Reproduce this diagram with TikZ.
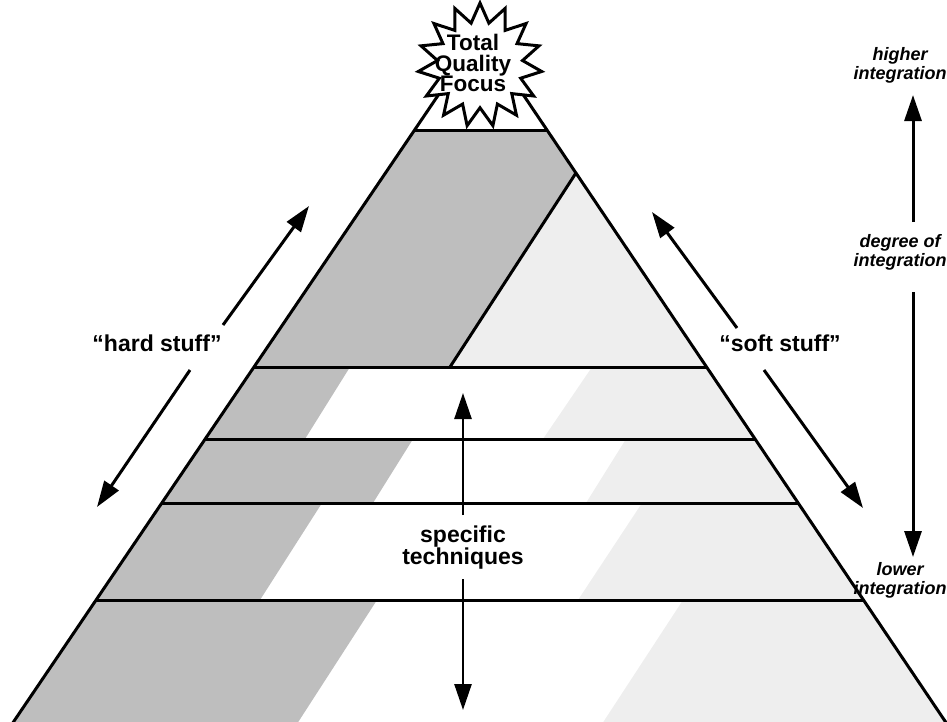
\documentclass[tikz,border=0pt]{standalone}
\usepackage{fontspec}
\setmainfont{Liberation Sans}
\usepackage{xcolor}
\usetikzlibrary{arrows.meta,calc,shapes.geometric}

\definecolor{hardgray}{HTML}{BEBEBE}
\definecolor{softgray}{HTML}{EEEEEE}

\tikzset{
	edge/.style={line width=3pt},
	arr/.style={line width=3pt,-{Triangle[length=26pt,width=17pt]}},
	lbl/.style={font=\fontsize{23}{22}\selectfont\bfseries,align=center},
	side/.style={font=\fontsize{18}{19}\selectfont\bfseries\itshape,align=center}
}

\begin{document}
\begin{tikzpicture}[x=1pt,y=-1pt]
		\useasboundingbox (0,0) rectangle (947,721);
		
		\coordinate (apex) at (481,32);
		\coordinate (bl) at (10,727);
		\coordinate (br) at (949,727);
		
		% shaded strips
		\begin{scope}
		\clip (apex) -- (bl) -- (br) -- cycle;
		\fill[hardgray] (0,130) rectangle (947,367);
		\fill[softgray] (576,173) -- (450,367) -- (720,367) -- cycle;
		\fill[hardgray] (0,367) -- (350,367) -- (305,439) -- (0,439) -- cycle;
		\fill[softgray] (592,367) -- (947,367) -- (947,439) -- (543,439) -- cycle;
		\fill[hardgray] (0,439) -- (413,439) -- (373,503) -- (0,503) -- cycle;
		\fill[softgray] (626,439) -- (947,439) -- (947,503) -- (586,503) -- cycle;
		\fill[hardgray] (0,503) -- (322,503) -- (260,600) -- (0,600) -- cycle;
		\fill[softgray] (642,503) -- (947,503) -- (947,600) -- (578,600) -- cycle;
		\fill[hardgray] (0,600) -- (377,600) -- (295,727) -- (0,727) -- cycle;
		\fill[softgray] (683,600) -- (947,600) -- (947,727) -- (600,727) -- cycle;
		\end{scope}
		
		% pyramid
		\draw[edge] (bl) -- (apex) -- (br);
		\foreach \y in {130,367,439,503,600}
			\draw[edge] ($(apex)!{(\y-32)/695}!(bl)$) -- ($(apex)!{(\y-32)/695}!(br)$);
		\draw[edge] ($(apex)!{(173-32)/695}!(br)$) -- (450,367);
		
		% top burst
		\node[star,star points=15,star point ratio=1.45,minimum size=124pt,inner sep=0pt,
			draw,line width=3pt,fill=white] (burst) at (480,65) {};
		\node[lbl,font=\fontsize{22.5}{20.5}\selectfont\bfseries] (tqf) at (473,63) {Total\\Quality\\Focus};
		
		% hard stuff
		\node[lbl] (hard) at (157,343) {“hard stuff”};
		\coordinate (hardA) at (223,325);
		\coordinate (hardtop) at (309,206);
		\coordinate (hardB) at (190,370);
		\coordinate (hardbot) at (97,507);
		\draw[arr] (hardA) -- (hardtop);
		\draw[arr] (hardB) -- (hardbot);
		
		% soft stuff
		\node[lbl] (soft) at (780,343) {“soft stuff”};
		\coordinate (softA) at (737,328);
		\coordinate (softtop) at (652,212);
		\coordinate (softB) at (764,370);
		\coordinate (softbot) at (863,508);
		\draw[arr] (softA) -- (softtop);
		\draw[arr] (softB) -- (softbot);
		
		% specific techniques
		\node[lbl] (spec) at (463,548) {specific\\techniques};
		\coordinate (specA) at (463,515);
		\coordinate (spectop) at (463,393);
		\coordinate (specB) at (463,579);
		\coordinate (specbot) at (463,710);
		\draw[arr,line width=2.6pt] (specA) -- (spectop);
		\draw[arr,line width=2.6pt] (specB) -- (specbot);
		
		% degree of integration
		\node[side] (high) at (900,65) {higher\\integration};
		\node[side] (deg) at (900,252) {degree of\\integration};
		\node[side] (low) at (900,580) {lower\\integration};
		\coordinate (degA) at (913,222);
		\coordinate (degtop) at (913,95);
		\coordinate (degB) at (913,292);
		\coordinate (degbot) at (913,557);
		\draw[arr] (degA) -- (degtop);
		\draw[arr] (degB) -- (degbot);
		\end{tikzpicture}
\end{document}
